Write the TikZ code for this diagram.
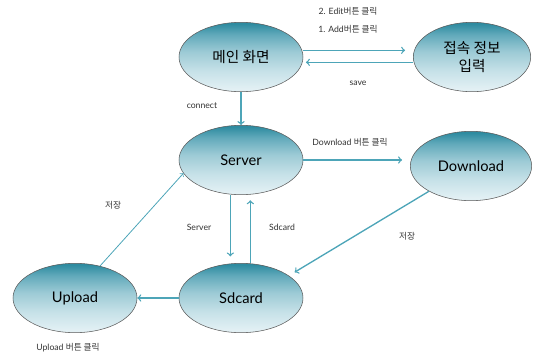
\documentclass[tikz,border=0pt]{standalone}
\usepackage{fontspec}
\setmainfont{Lato}
\newfontfamily\kr{Noto Sans CJK KR}
\usepackage{tikz}
\usetikzlibrary{positioning}
\usetikzlibrary{shapes.geometric, arrows}
\usepackage{xcolor}
\definecolor{elltop}{HTML}{2E8BA0}
\definecolor{ellup}{HTML}{62AABB}
\definecolor{ellmid}{HTML}{9CCAD5}
\definecolor{elllow}{HTML}{C6E1E8}
\definecolor{ellbot}{HTML}{E2F0F4}
\definecolor{flowc}{HTML}{4DA5B8}
\pgfdeclareverticalshading{ellshade}{100bp}{color(0bp)=(ellbot); color(27bp)=(ellbot);
  color(40bp)=(elllow); color(54bp)=(ellmid); color(66bp)=(ellup); color(74bp)=(elltop); color(100bp)=(elltop)}

\begin{document}
\begin{tikzpicture}[x=0.75pt,y=-0.75pt,
        state/.style = {draw=black!65, ellipse, thin, shading=ellshade,
          minimum width=93pt, minimum height=52pt, inner sep=0pt, font=\fontsize{11}{13}\selectfont, align=center},
        flow/.style = {->, >=to, draw=flowc, line width=1pt},
        lbl/.style = {font=\fontsize{6.5}{8}\selectfont, text=black!80, inner sep=1pt}]
        \useasboundingbox (0,0) rectangle (535,356);
        \node[state] (main) at (241,57) {\kr 메인 화면};
        \node[state, minimum width=88pt] (info) at (472,57) {\kr 접속 정보\\[1pt]\kr 입력};
        \node[state] (srv) at (241,160) {Server};
        \node[state, minimum width=91pt] (down) at (471,166) {Download};
        \node[state] (sd) at (241,298) {Sdcard};
        \node[state] (up) at (75,298) {Upload};
        % labels
        \node[lbl] (l1) at (348,11) {2. Edit{\kr 버튼 클릭}};
        \node[lbl] (l2) at (348,29) {1. Add{\kr 버튼 클릭}};
        \node[lbl] (l3) at (358,83) {save};
        \node[lbl] (l4) at (202,106) {connect};
        \node[lbl] (l5) at (350,142) {Download {\kr 버튼 클릭}};
        \node[lbl] (l6) at (407,236) {\kr 저장};
        \node[lbl] (l7) at (113,205) {\kr 저장};
        \node[lbl] (l8) at (199,227) {Server};
        \node[lbl] (l9) at (282,227) {Sdcard};
        \node[lbl] (l10) at (68,348) {Upload {\kr 버튼 클릭}};
        % connectors
        \draw[flow, shorten >=6pt] ([yshift=5pt]main.east) -- ([yshift=5pt]main.east -| info.west);
        \draw[flow, shorten >=2pt] ([yshift=-4pt]info.west) -- ([yshift=-4pt]info.west -| main.east);
        \draw[flow] (main) -- (srv);
        \draw[flow, shorten >=6pt] (srv.east) -- (srv.east -| down.west);
        \draw[flow, shorten >=5pt] ([xshift=-8pt]srv.south) -- ([xshift=-8pt]sd.north);
        \draw[flow, shorten >=4pt] ([xshift=7pt]sd.north) -- ([xshift=7pt]srv.south);
        \draw[flow, shorten >=5pt] (down.211) -- (sd.25);
        \draw[flow] (sd) -- (up);
        \draw[flow, line width=0.6pt] (up.52) -- (srv.193);
      \end{tikzpicture}
\end{document}
